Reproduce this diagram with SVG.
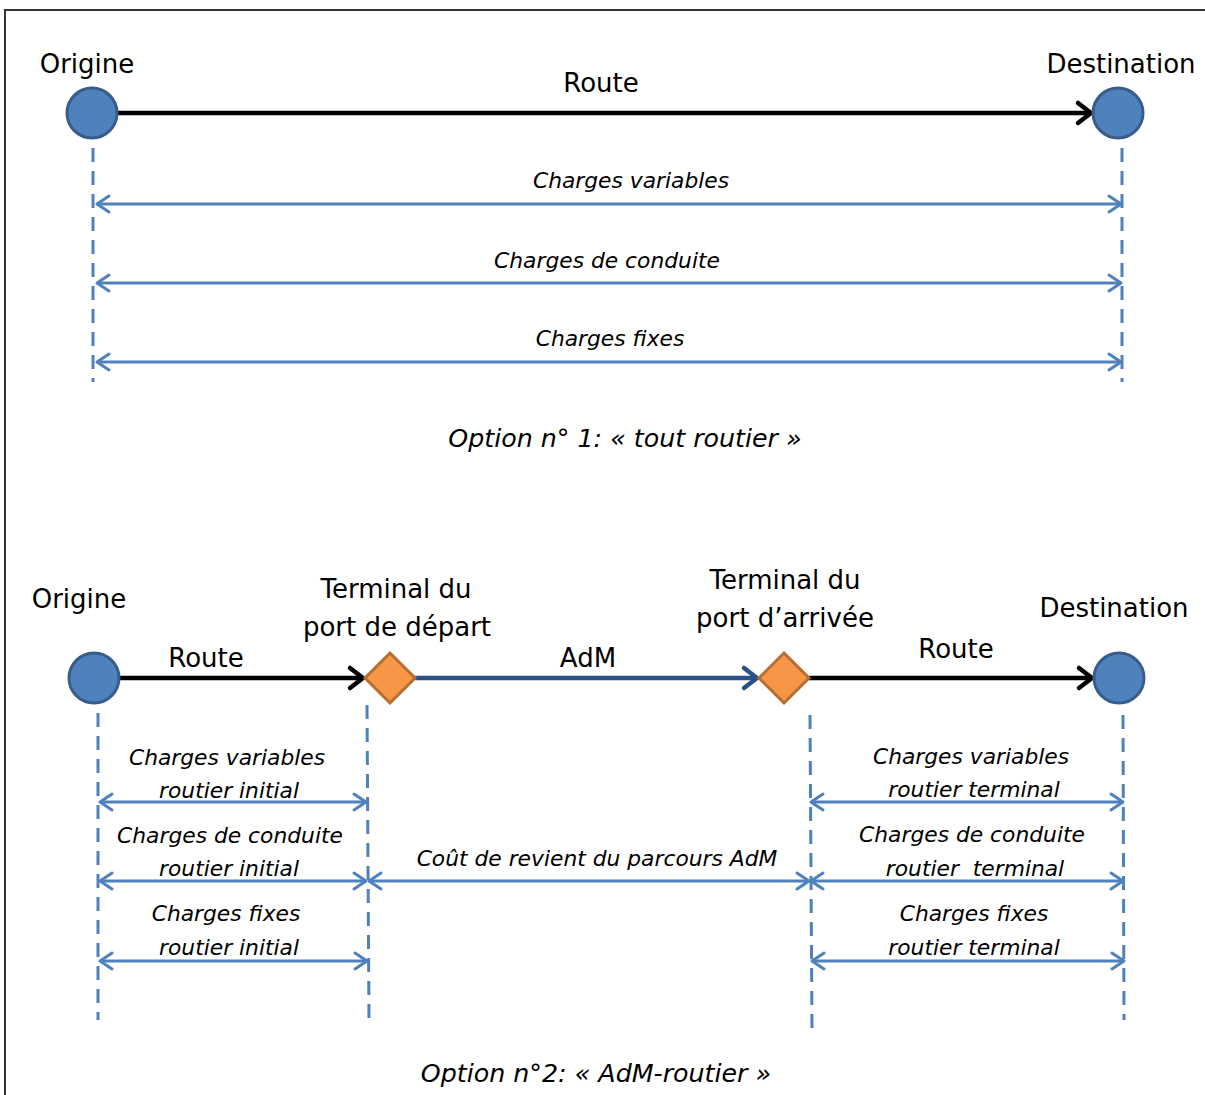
<svg xmlns="http://www.w3.org/2000/svg" width="1205" height="1095" viewBox="0 0 1205 1095">
<style>
.lbl{font-family:"DejaVu Sans","Liberation Sans",sans-serif;font-size:26px;fill:#000}
.it{font-family:"DejaVu Sans","Liberation Sans",sans-serif;font-style:italic;font-size:21.8px;fill:#000}
.cap{font-family:"DejaVu Sans","Liberation Sans",sans-serif;font-style:italic;font-size:25.3px;fill:#000}
.circ{fill:#4F81BD;stroke:#385D8A;stroke-width:3}
.dia{fill:#F79646;stroke:#B66D31;stroke-width:3}
.dash{stroke:#4F81BD;stroke-width:3;stroke-dasharray:14 9;fill:none}
.dbl{stroke:#4F81BD;stroke-width:3;fill:none;marker-start:url(#ab);marker-end:url(#ab)}
.road{stroke:#000;stroke-width:4.5;fill:none;marker-end:url(#ak)}
.sea{stroke:#2A5185;stroke-width:4.5;fill:none;marker-end:url(#an)}
</style>
<defs>
<marker id="ab" viewBox="-16 -11 19 22" markerWidth="19" markerHeight="22" refX="0" refY="0" orient="auto-start-reverse" markerUnits="userSpaceOnUse">
<path d="M-12,-8 L0,0 L-12,8" fill="none" stroke="#4F81BD" stroke-width="3" stroke-linecap="round" stroke-linejoin="round"/>
</marker>
<marker id="ak" viewBox="-18 -14 22 28" markerWidth="22" markerHeight="28" refX="0" refY="0" orient="auto" markerUnits="userSpaceOnUse">
<path d="M-13,-10 L0,0 L-13,10" fill="none" stroke="#000" stroke-width="4.5" stroke-linecap="round" stroke-linejoin="round"/>
</marker>
<marker id="an" viewBox="-18 -14 22 28" markerWidth="22" markerHeight="28" refX="0" refY="0" orient="auto" markerUnits="userSpaceOnUse">
<path d="M-13,-10 L0,0 L-13,10" fill="none" stroke="#2A5185" stroke-width="4.5" stroke-linecap="round" stroke-linejoin="round"/>
</marker>
</defs>
<rect width="1205" height="1095" fill="#fff"/>
<path d="M5,1095 L5,10 L1205,10" fill="none" stroke="#333" stroke-width="2"/>

<g id="connectors">
<line class="road" x1="117" y1="113" x2="1091" y2="113"/>
<line class="dash" x1="93" y1="148" x2="93" y2="382"/>
<line class="dash" x1="1122" y1="148" x2="1122" y2="382"/>
<line class="dbl" x1="97" y1="204" x2="1121" y2="204"/>
<line class="dbl" x1="97" y1="283" x2="1121" y2="283"/>
<line class="dbl" x1="97" y1="362" x2="1121" y2="362"/>

<line class="road" x1="119" y1="678" x2="363" y2="678"/>
<line class="sea" x1="415" y1="678" x2="757" y2="678"/>
<line class="road" x1="809" y1="678" x2="1092" y2="678"/>
<line class="dash" x1="98" y1="713" x2="98" y2="1020"/>
<line class="dash" x1="367" y1="705" x2="369" y2="1020"/>
<line class="dash" x1="810" y1="715" x2="812" y2="1030"/>
<line class="dash" x1="1123" y1="715" x2="1124" y2="1020"/>
<line class="dbl" x1="100" y1="802" x2="366" y2="802"/>
<line class="dbl" x1="100" y1="881" x2="366" y2="881"/>
<line class="dbl" x1="100" y1="961" x2="367" y2="961"/>
<line class="dbl" x1="369" y1="881" x2="809" y2="881"/>
<line class="dbl" x1="811" y1="802" x2="1123" y2="802"/>
<line class="dbl" x1="811" y1="881" x2="1123" y2="881"/>
<line class="dbl" x1="812" y1="961" x2="1124" y2="961"/>
</g>

<g id="origine1"><circle class="circ" cx="92" cy="113" r="25"/><text class="lbl" x="87" y="73" text-anchor="middle">Origine</text></g>
<g id="destination1"><circle class="circ" cx="1118" cy="113" r="25"/><text class="lbl" x="1121" y="73" text-anchor="middle">Destination</text></g>
<g id="labels1">
<text class="lbl" x="601" y="92" text-anchor="middle">Route</text>
<text class="it" x="631" y="188" text-anchor="middle">Charges variables</text>
<text class="it" x="607" y="268" text-anchor="middle">Charges de conduite</text>
<text class="it" x="610" y="346" text-anchor="middle">Charges fixes</text>
<text class="cap" x="625" y="447" text-anchor="middle">Option n° 1: « tout routier »</text>
</g>

<g id="origine2"><circle class="circ" cx="94" cy="678" r="25"/><text class="lbl" x="79" y="608" text-anchor="middle">Origine</text></g>
<g id="terminal-depart"><path class="dia" d="M390,653 L415,678 L390,703 L365,678 Z"/><text class="lbl" x="396" y="598" text-anchor="middle">Terminal du</text><text class="lbl" x="397" y="636" text-anchor="middle">port de départ</text></g>
<g id="terminal-arrivee"><path class="dia" d="M784,653 L809,678 L784,703 L759,678 Z"/><text class="lbl" x="785" y="589" text-anchor="middle">Terminal du</text><text class="lbl" x="785" y="627" text-anchor="middle">port d’arrivée</text></g>
<g id="destination2"><circle class="circ" cx="1119" cy="678" r="25"/><text class="lbl" x="1114" y="617" text-anchor="middle">Destination</text></g>
<g id="labels2">
<text class="lbl" x="206" y="667" text-anchor="middle">Route</text>
<text class="lbl" x="588" y="667" text-anchor="middle">AdM</text>
<text class="lbl" x="956" y="658" text-anchor="middle">Route</text>
<text class="it" x="227" y="765" text-anchor="middle">Charges variables</text>
<text class="it" x="229" y="798" text-anchor="middle">routier initial</text>
<text class="it" x="230" y="843" text-anchor="middle">Charges de conduite</text>
<text class="it" x="229" y="876" text-anchor="middle">routier initial</text>
<text class="it" x="226" y="921" text-anchor="middle">Charges fixes</text>
<text class="it" x="229" y="955" text-anchor="middle">routier initial</text>
<text class="it" x="597" y="866" text-anchor="middle">Coût de revient du parcours AdM</text>
<text class="it" x="971" y="764" text-anchor="middle">Charges variables</text>
<text class="it" x="974" y="797" text-anchor="middle">routier terminal</text>
<text class="it" x="972" y="842" text-anchor="middle">Charges de conduite</text>
<text class="it" x="975" y="876" text-anchor="middle" xml:space="preserve">routier  terminal</text>
<text class="it" x="974" y="921" text-anchor="middle">Charges fixes</text>
<text class="it" x="974" y="955" text-anchor="middle">routier terminal</text>
<text class="cap" x="596" y="1082" text-anchor="middle">Option n°2: « AdM-routier »</text>
</g>
</svg>
